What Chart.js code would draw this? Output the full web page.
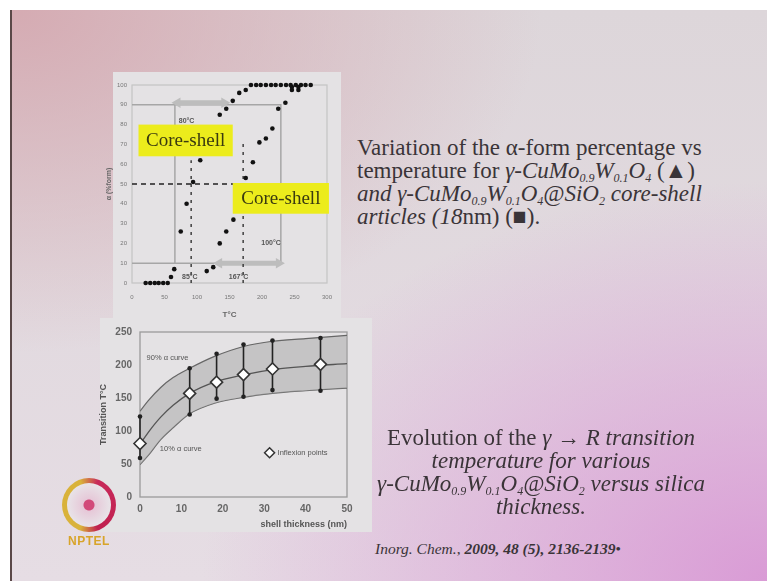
<!DOCTYPE html>
<html><head><meta charset="utf-8">
<script src="https://cdn.jsdelivr.net/npm/chart.js@4/dist/chart.umd.min.js"></script>
<style>
html,body{margin:0;padding:0;width:767px;height:581px;overflow:hidden;background:#fff;}
#slide{position:absolute;left:10px;top:10px;width:757px;height:571px;border-left:2px solid #5a4848;
 background:
 radial-gradient(ellipse 75% 70% at 100% 100%, rgba(216,148,212,0.9) 0%, rgba(216,148,212,0) 100%),
 radial-gradient(ellipse 70% 60% at 0% 0%, rgba(212,166,174,0.9) 0%, rgba(212,166,174,0) 100%),
 linear-gradient(#ddd6da,#e6dde4);}
.panel{position:absolute;background:#e4e2e4;}
canvas{position:absolute;}
.txt{position:absolute;font-family:"Liberation Serif","Times New Roman",serif;color:#3a3438;font-size:23px;line-height:23px;white-space:nowrap;}
sub{font-size:12px;vertical-align:-4px;line-height:0;}
#logo{position:absolute;left:62px;top:478px;width:54px;height:54px;border-radius:50%;
 background:conic-gradient(from 200deg,#d9b23a 0deg,#d9b23a 140deg,#c82a5a 180deg,#c0204f 320deg,#d9b23a 360deg);}
#logoIn{position:absolute;left:5px;top:5px;width:44px;height:44px;border-radius:50%;
 background:radial-gradient(circle,#d24a7a 0 5px,#e6c8d8 6px,#e8e4e8 22px);}
#nptel{position:absolute;left:60px;top:534px;width:58px;text-align:center;font:bold 12px "Liberation Sans",sans-serif;color:#d8a42a;letter-spacing:0.5px;}
</style></head>
<body>
<div id="slide"></div>
<div class="panel" style="left:113px;top:72px;width:228px;height:248px;"></div>
<div class="panel" style="left:100px;top:318px;width:272px;height:214px;"></div>
<canvas id="c1" width="238" height="250" style="left:105px;top:70px;"></canvas>
<canvas id="c2" width="272" height="212" style="left:98px;top:318px;"></canvas>
<div id="logo"><div id="logoIn"></div></div>
<div id="nptel">NPTEL</div>

<div class="txt" style="left:357px;top:136px;">Variation of the α-form percentage vs<br>
temperature for <i>γ-CuMo<sub>0.9</sub>W<sub>0.1</sub>O<sub>4</sub></i> (▲)<br>
<i>and γ-CuMo<sub>0.9</sub>W<sub>0.1</sub>O<sub>4</sub>@SiO<sub>2</sub> core-shell</i><br>
<i>articles (18</i>nm) (■).</div>

<div class="txt" style="left:341px;width:400px;text-align:center;top:426px;">Evolution of the <i>γ → R transition</i><br>
<i>temperature for various</i><br>
<i>γ-CuMo<sub>0.9</sub>W<sub>0.1</sub>O<sub>4</sub>@SiO<sub>2</sub> versus silica</i><br>
<i>thickness.</i></div>

<div class="txt" style="left:375px;top:537px;font-size:15.5px;"><i>Inorg. Chem.</i>, <b><i>2009, 48 (5), 2136-2139</i></b>•</div>

<script>
// ---------- Top chart data ----------
const bulkT     = [21,28,35,41,48,55,60,65,75,84,94,105,135,145,155,165,175,183,191,198,206,214,221,229,237,244,252,260,267,275];
const bulkAlpha = [0,0,0,0,0,0,3,7,26,40,51,62,85,88,92,96,97.5,100,100,100,100,100,100,100,100,100,100,100,100,100];
const coreT     = [115,125,135,145,156,175,186,196,206,216,225,236,246,246,256,256];
const coreAlpha = [6,8,20,26,32,53,61,71,73,78,88,91,97.5,99,97.5,99];
const tTicks    = [0,50,100,150,200,250,300];
const alphaTicks= [0,10,20,30,40,50,60,70,80,90,100];
// guide lines (data units)
const boxT      = [0,229,229,0];
const boxAlpha  = [90,90,10,10];
const leftGuideT = [66,66];
const leftGuideA = [90,10];
const halfLineT = [0,175];
const halfLineA = [50,50];
const bulkMidT  = [91,91];
const bulkMidA  = [0,62];
const coreMidT  = [171,171];
const coreMidA  = [0,72];
const arrowTopT = [70,142];
const arrowTopA = [91,91];
const arrowBotT = [134,226];
const arrowBotA = [10,10];
const tempNotes = ['85°C','167°C','80°C','100°C'];
const tempNoteT = [89,164,84,214];
const tempNoteA = [3,3,82,20];
const boxLabels = ['Core-shell','Core-shell'];
const boxLabelT = [[10,155],[155,303]];
const boxLabelA = [[80,64],[50.5,35]];

// ---------- Bottom chart data ----------
const thickX   = [0,2,5,8,12,18,25,32,40,50];
const upper90  = [130,146,166,181,195,213,228,236,240,245];
const middle   = [80,98,121,139,157,174,185,193,198,202];
const lower10  = [49,63,87,105,126,142,151,157,161,165];
const infX     = [0,12,18.5,25,32,43.6];
const infY     = [81,157,174,185.5,194,201];
const errHigh  = [122,195,217,231,237,241];
const errLow   = [59,125,149,152,162,161];
const thickTicks = [0,10,20,30,40,50];
const transTicks = [0,50,100,150,200,250];

const pts = (xs, ys) => xs.map((x,i)=>({x, y: ys[i]}));
const SANS = '"Liberation Sans", Arial, sans-serif';

const frame = (color,w) => ({id:'frame', beforeDatasetsDraw(ch){const a=ch.chartArea,c=ch.ctx;c.save();c.strokeStyle=color;c.lineWidth=w;c.strokeRect(a.left,a.top,a.right-a.left,a.bottom-a.top);c.restore();}});

const topLabels = {id:'topLabels', afterDatasetsDraw(ch){
  const c=ch.ctx, xs=ch.scales.x, ys=ch.scales.y;
  c.save();
  c.font='bold 7px '+SANS; c.fillStyle='#555'; c.textAlign='center'; c.textBaseline='middle';
  tempNotes.forEach((t,i)=>c.fillText(t, xs.getPixelForValue(tempNoteT[i]), ys.getPixelForValue(tempNoteA[i])));
  boxLabels.forEach((t,i)=>{
    const x1=xs.getPixelForValue(boxLabelT[i][0]), x2=xs.getPixelForValue(boxLabelT[i][1]);
    const y1=ys.getPixelForValue(boxLabelA[i][0]), y2=ys.getPixelForValue(boxLabelA[i][1]);
    c.fillStyle='#ecec1c'; c.fillRect(x1,y1,x2-x1,y2-y1);
    c.fillStyle='#3a3a10'; c.font='19px "Liberation Serif", serif';
    c.fillText(t,(x1+x2)/2,(y1+y2)/2+1);
  });
  c.restore();
}};

new Chart(document.getElementById('c1'), {
  type:'scatter',
  data:{datasets:[
    {data:pts(bulkT,bulkAlpha), pointRadius:2.3, pointBackgroundColor:'#111', pointBorderWidth:0, showLine:false, clip:false},
    {data:pts(coreT,coreAlpha), pointRadius:2.3, pointBackgroundColor:'#111', pointBorderWidth:0, showLine:false, clip:false},
    {data:pts(halfLineT,halfLineA), showLine:true, borderColor:'#222', borderWidth:1.4, borderDash:[5,4], pointRadius:0},
    {data:pts(bulkMidT,bulkMidA), showLine:true, borderColor:'#333', borderWidth:1.4, borderDash:[3,5], pointRadius:0},
    {data:pts(coreMidT,coreMidA), showLine:true, borderColor:'#333', borderWidth:1.4, borderDash:[3,5], pointRadius:0},
    {data:pts(arrowTopT,arrowTopA), showLine:true, borderColor:'#bdbdbd', borderWidth:5, pointRadius:6, pointStyle:'triangle', pointRotation:[270,90], pointBackgroundColor:'#bdbdbd', pointBorderWidth:0},
    {data:pts(arrowBotT,arrowBotA), showLine:true, borderColor:'#bdbdbd', borderWidth:5, pointRadius:6, pointStyle:'triangle', pointRotation:[270,90], pointBackgroundColor:'#bdbdbd', pointBorderWidth:0},
    {data:pts(boxT,boxAlpha), showLine:true, borderColor:'#a6a6a6', borderWidth:1.5, pointRadius:0},
    {data:pts(leftGuideT,leftGuideA), showLine:true, borderColor:'#a6a6a6', borderWidth:1.5, pointRadius:0}
  ]},
  options:{
    responsive:false, animation:false, events:[],
    layout:{padding:{top:15,right:15,left:0,bottom:0}},
    plugins:{legend:{display:false}, tooltip:{enabled:false}},
    scales:{
      x:{type:'linear', min:0, max:300, afterBuildTicks(s){s.ticks=tTicks.map(v=>({value:v}));},
         grid:{display:false, drawTicks:false}, border:{display:false},
         ticks:{font:{size:6,family:SANS}, color:'#777', padding:11, maxRotation:0},
         title:{display:true, text:'T°C', font:{size:8,family:SANS,weight:'bold'}, color:'#666', padding:{top:3,bottom:0}},
         afterFit(s){s.height=37;}},
      y:{type:'linear', min:0, max:100, afterBuildTicks(s){s.ticks=alphaTicks.map(v=>({value:v}));},
         grid:{display:false, drawTicks:false}, border:{display:false},
         ticks:{font:{size:6,family:SANS}, color:'#777', padding:5},
         title:{display:true, text:'α (%form)', font:{size:7,family:SANS,weight:'bold'}, color:'#666', padding:{top:0,bottom:2}},
         afterFit(s){s.width=27;}}
    }
  },
  plugins:[frame('#c4c4c4',1.2), topLabels]
});

// ---------- bottom chart ----------
const errSets = infX.map((x,i)=>({data:[{x,y:errLow[i]},{x,y:errHigh[i]}], showLine:true, borderColor:'#222', borderWidth:1.6, pointRadius:2.3, pointBackgroundColor:'#222', pointBorderWidth:0, order:1, clip:false}));

const botLabels = {id:'botLabels', afterDatasetsDraw(ch){
  const c=ch.ctx, xs=ch.scales.x, ys=ch.scales.y;
  c.save();
  c.font='7.5px '+SANS; c.fillStyle='#555'; c.textBaseline='middle';
  c.fillText('90% α curve', xs.getPixelForValue(1.6), ys.getPixelForValue(210));
  c.fillText('10% α curve', xs.getPixelForValue(4.8), ys.getPixelForValue(73));
  const lx=xs.getPixelForValue(31.3), ly=ys.getPixelForValue(67);
  c.beginPath(); c.moveTo(lx-5,ly); c.lineTo(lx,ly-5); c.lineTo(lx+5,ly); c.lineTo(lx,ly+5); c.closePath();
  c.fillStyle='#fff'; c.fill(); c.strokeStyle='#333'; c.lineWidth=1.5; c.stroke();
  c.fillStyle='#555'; c.fillText('Inflexion points', lx+8, ly);
  c.restore();
}};

new Chart(document.getElementById('c2'), {
  type:'scatter',
  data:{datasets:[
    {data:pts(infX,infY), showLine:false, pointStyle:'rectRot', pointRadius:6, pointBackgroundColor:'#fff', pointBorderColor:'#333', pointBorderWidth:1.6, order:0, clip:false},
    ...errSets,
    {data:pts(thickX,middle), showLine:true, borderColor:'#555', borderWidth:1.3, pointRadius:0, cubicInterpolationMode:'monotone', order:2},
    {data:pts(thickX,upper90), showLine:true, borderColor:'#666', borderWidth:1.2, pointRadius:0, cubicInterpolationMode:'monotone', fill:'+1', backgroundColor:'rgba(165,165,165,0.5)', order:3},
    {data:pts(thickX,lower10), showLine:true, borderColor:'#666', borderWidth:1.2, pointRadius:0, cubicInterpolationMode:'monotone', order:4}
  ]},
  options:{
    responsive:false, animation:false, events:[],
    layout:{padding:{top:10,right:23,left:0,bottom:0}},
    plugins:{legend:{display:false}, tooltip:{enabled:false}},
    scales:{
      x:{type:'linear', min:0, max:50, afterBuildTicks(s){s.ticks=thickTicks.map(v=>({value:v}));},
         grid:{display:false, drawTicks:false}, border:{display:false},
         ticks:{font:{size:10,family:SANS,weight:'bold'}, color:'#666', padding:6, maxRotation:0},
         title:{display:true, text:'shell thickness (nm)', align:'end', font:{size:9,family:SANS,weight:'bold'}, color:'#555', padding:{top:2,bottom:0}},
         afterFit(s){s.height=33;}},
      y:{type:'linear', min:0, max:250, afterBuildTicks(s){s.ticks=transTicks.map(v=>({value:v}));},
         grid:{display:false, drawTicks:false}, border:{display:false},
         ticks:{font:{size:10,family:SANS,weight:'bold'}, color:'#666', padding:8},
         title:{display:true, text:'Transition T°C', font:{size:9,family:SANS,weight:'bold'}, color:'#555', padding:{top:0,bottom:2}},
         afterFit(s){s.width=42;}}
    }
  },
  plugins:[frame('#9a9a9a',1.3), botLabels]
});
</script>
</body></html>
